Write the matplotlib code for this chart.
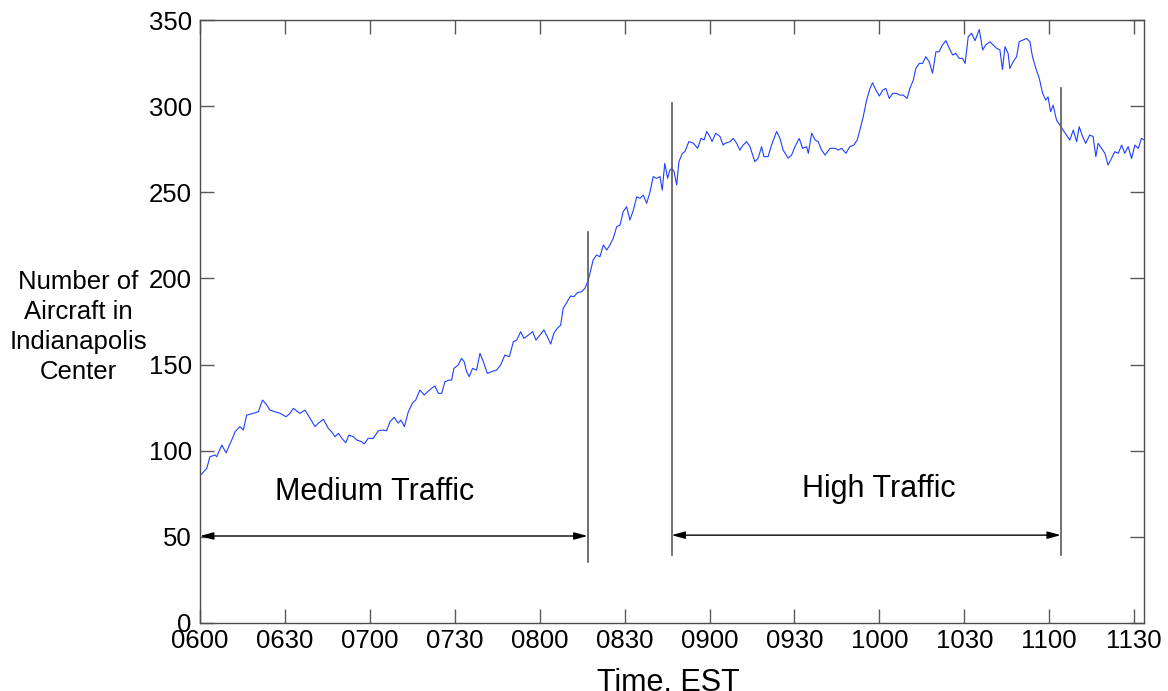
import numpy as np
import matplotlib
matplotlib.use("Agg")
import matplotlib.pyplot as plt

plt.rcParams['font.family'] = ['Liberation Sans', 'DejaVu Sans']

# minutes after 0600 and aircraft count
minutes = [
    0.0, 0.6, 2.4, 3.5, 5.3, 5.9, 7.7, 9.2, 11.2, 12.4, 14.1, 15.3, 16.5, 18.8,
    20.6, 22.1, 23.6, 24.7, 26.5, 28.3, 30.4, 31.8, 33.0, 35.3, 37.1, 38.9,
    40.6, 41.8, 43.6, 45.3, 46.5, 47.7, 48.9, 50.1, 51.5, 52.6, 54.2, 55.4,
    57.1, 58.0, 59.4, 61.2, 63.0, 64.7, 65.9, 67.1, 68.6, 70.0, 71.0, 72.2,
    73.6, 75.0, 76.2, 77.7, 79.2, 80.4, 81.8, 83.0, 84.2, 85.4, 86.5, 88.0,
    88.9, 89.7, 91.2, 92.4, 93.3, 94.2, 95.1, 96.3, 97.7, 98.9, 100.1, 101.5,
    103.0, 104.8, 106.2, 107.7, 109.3, 110.7, 111.9, 113.3, 114.4, 116.0,
    117.5, 118.7, 120.1, 121.5, 122.7, 123.9, 125.0, 126.2, 127.4, 128.3,
    129.7, 130.9, 132.1, 133.3, 134.8, 136.0, 137.2, 138.9, 140.1, 141.3,
    142.5, 143.7, 144.8, 146.0, 147.2, 148.4, 149.5, 150.7, 151.9, 153.1,
    154.3, 155.4, 156.6, 157.8, 159.0, 160.1, 161.3, 162.5, 163.3, 164.2,
    165.2, 166.0, 166.8, 167.5, 168.4, 169.2, 170.4, 171.3, 172.7, 174.3,
    175.8, 177.0, 178.1, 179.0, 180.1, 180.9, 182.2, 183.7, 184.8, 185.5,
    187.3, 188.4, 189.6, 190.7, 191.9, 193.1, 194.3, 196.0, 197.2, 198.4,
    199.2, 200.7, 201.9, 203.7, 204.9, 206.0, 207.8, 209.0, 210.2, 211.7,
    212.9, 214.3, 214.9, 216.1, 217.3, 218.4, 219.6, 220.8, 222.6, 224.4,
    225.5, 226.7, 228.2, 229.6, 231.0, 232.2, 233.1, 234.3, 235.5, 236.7,
    237.6, 238.8, 240.0, 241.2, 242.3, 243.5, 244.7, 246.1, 247.3, 248.4,
    249.8, 250.8, 252.0, 252.9, 254.1, 255.3, 256.4, 257.6, 258.8, 260.0,
    261.1, 262.3, 263.5, 264.7, 265.9, 267.0, 268.2, 269.4, 270.3, 271.4,
    272.6, 273.8, 275.3, 276.5, 277.6, 279.1, 280.2, 281.4, 282.6, 283.5,
    284.4, 285.5, 286.1, 287.3, 288.5, 289.4, 290.8, 292.0, 293.2, 294.1,
    295.3, 296.5, 297.7, 298.8, 299.6, 300.5, 301.4, 302.6, 303.8, 304.9,
    306.1, 307.3, 308.5, 309.7, 310.6, 311.8, 312.9, 314.3, 315.5, 316.5,
    317.3, 318.5, 319.7, 320.8, 322.0, 323.2, 324.4, 325.6, 326.7, 327.9,
    329.1, 330.3, 331.5, 332.6, 333.5,
]
aircraft = [
    86.0, 86.5, 89.8, 96.5, 97.5, 96.5, 103.3, 98.8, 106.2, 111.0, 114.0, 112.0,
    120.7, 121.7, 122.6, 129.4, 126.5, 123.6, 122.6, 121.7, 119.7, 121.7, 124.6,
    121.7, 123.6, 118.8, 114.0, 116.0, 118.2, 113.0, 111.0, 108.1, 110.1, 107.2,
    104.6, 109.1, 108.1, 106.2, 105.2, 103.9, 107.2, 107.2, 111.6, 112.0, 111.6,
    116.8, 119.4, 116.0, 117.8, 114.0, 122.6, 127.5, 129.4, 135.2, 132.3, 134.2,
    136.2, 137.6, 133.3, 133.3, 140.0, 141.0, 141.0, 147.8, 149.7, 153.6, 151.7,
    145.9, 143.0, 147.8, 146.8, 156.5, 151.7, 144.9, 145.9, 146.8, 149.7, 155.5,
    154.6, 163.3, 164.2, 169.1, 165.2, 167.1, 169.1, 164.2, 167.1, 170.1, 166.2,
    161.9, 168.1, 171.0, 172.9, 182.6, 186.5, 189.8, 189.4, 191.7, 192.3, 194.3,
    199.1, 210.7, 213.6, 212.6, 219.4, 216.5, 219.4, 223.3, 230.0, 231.0, 238.7,
    241.6, 233.9, 239.7, 247.4, 246.5, 248.4, 243.6, 250.3, 259.1, 258.1, 259.1,
    251.3, 266.8, 258.1, 262.9, 263.9, 261.9, 254.2, 267.8, 272.6, 273.6, 279.4,
    278.5, 275.5, 281.3, 280.4, 285.3, 282.4, 279.4, 284.3, 282.4, 277.4, 278.4,
    279.4, 281.3, 278.4, 274.5, 277.4, 279.4, 276.5, 267.8, 269.8, 276.5, 270.7,
    270.7, 277.4, 285.3, 281.3, 274.5, 269.8, 271.6, 276.5, 281.3, 275.5, 276.5,
    272.6, 284.3, 280.4, 279.4, 274.5, 271.6, 275.5, 275.5, 274.5, 275.5, 272.6,
    276.5, 277.4, 280.4, 286.0, 293.8, 303.5, 310.3, 313.6, 309.3, 305.9, 309.3,
    310.3, 304.5, 307.4, 307.4, 306.4, 306.4, 304.5, 310.3, 315.1, 321.9, 324.8,
    324.8, 328.7, 325.8, 319.1, 331.6, 331.6, 335.5, 338.0, 333.6, 329.7, 330.6,
    327.7, 327.7, 324.8, 340.3, 342.3, 338.0, 344.5, 332.6, 335.5, 337.4, 335.5,
    333.6, 332.6, 321.3, 334.5, 330.6, 321.9, 325.8, 328.7, 337.4, 338.4, 339.3,
    337.4, 328.7, 321.9, 316.1, 307.4, 303.5, 305.4, 296.8, 300.6, 291.9, 289.0,
    286.1, 283.2, 280.3, 286.1, 279.4, 288.1, 282.4, 278.4, 283.2, 282.4, 270.7,
    278.4, 275.5, 272.6, 265.8, 269.6, 273.6, 272.6, 277.4, 272.6, 276.5, 269.6,
    277.4, 275.5, 281.3, 280.4,
]

tick_minutes = [0, 30, 60, 90, 120, 150, 180, 210, 240, 270, 300, 330]
tick_labels = ["0600", "0630", "0700", "0730", "0800", "0830", "0900",
               "0930", "1000", "1030", "1100", "1130"]

# period markers: (minute, bottom, top)
markers = [(136.9, 35.6, 226.7), (166.6, 39.5, 302.0), (304.1, 39.5, 310.6)]
periods = ["Medium Traffic", "High Traffic"]
period_spans = [(0.0, 136.9, 50.5), (166.6, 304.1, 51.0)]
period_text = [(61.8, 76.0), (239.9, 78.0)]

fig = plt.figure(figsize=(11.68, 6.91), dpi=100)
ax = fig.add_axes([200 / 1168, 1 - 623 / 691, 944 / 1168, 603 / 691])

ax.plot(minutes, aircraft, color="#1f3fff", linewidth=0.8)

for mx, lo, hi in markers:
    ax.plot([mx, mx], [lo, hi], color="0.35", linewidth=1.2)

for (x0, x1, yy), label, (tx, ty) in zip(period_spans, periods, period_text):
    ax.annotate("", xy=(x1, yy), xytext=(x0, yy),
                arrowprops=dict(arrowstyle="<|-|>,head_length=0.8,head_width=0.22",
                                color="k", lw=1.0, shrinkA=0, shrinkB=0))
    ax.text(tx, ty, label, fontsize=22, ha="center", va="center")

ax.set_xlim(0, 333.5)
ax.set_ylim(0, 350)
ax.set_xticks(tick_minutes)
ax.set_xticklabels(tick_labels)
ax.set_yticks(np.arange(0, 351, 50))
ax.tick_params(direction="in", length=10, width=1, color="0.35",
               top=True, right=True, labelsize=18.5)
ax.tick_params(axis="y", pad=6)
ax.tick_params(axis="x", pad=4)
for s in ax.spines.values():
    s.set_color("0.3")
    s.set_linewidth(1.0)

fig.text(78 / 1168, 1 - 327 / 691, "Number of\nAircraft in\nIndianapolis\nCenter",
         fontsize=18.5, ha="center", va="center", multialignment="center",
         linespacing=1.3)
fig.text(668 / 1168, 1 - 683 / 691, "Time, EST", fontsize=22,
         ha="center", va="center")

fig.savefig("out.png", dpi=100)
plt.close(fig)
